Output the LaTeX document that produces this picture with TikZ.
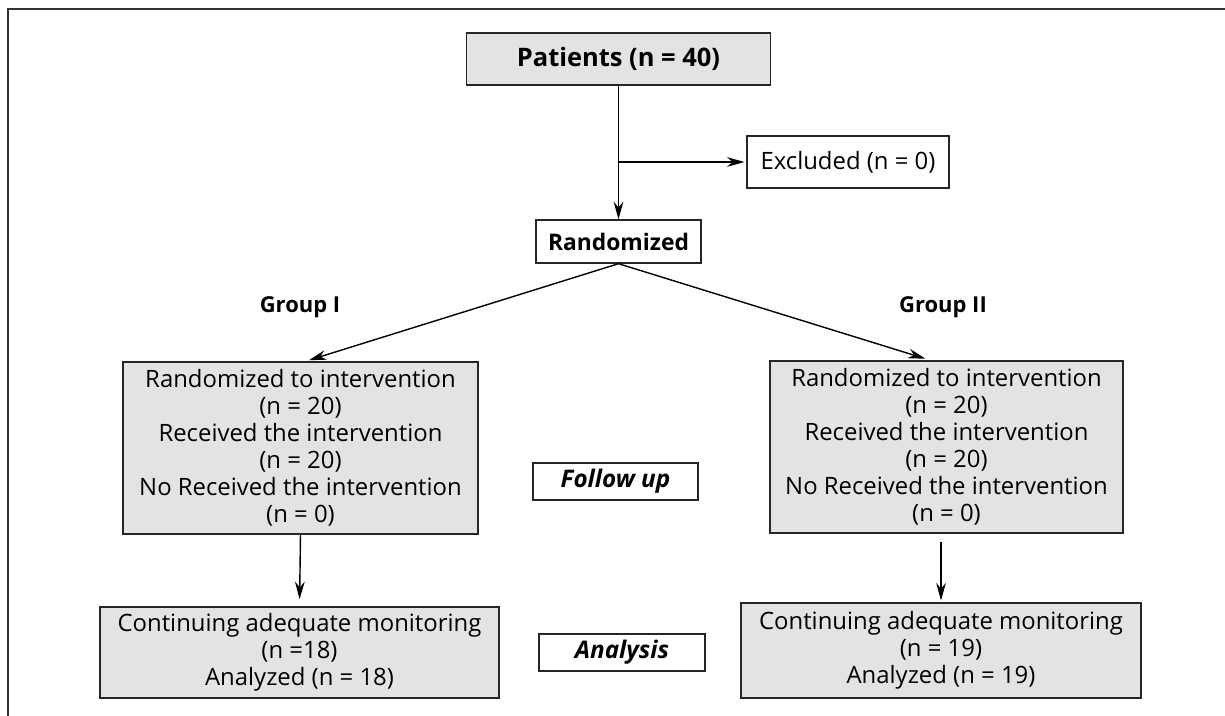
\documentclass[tikz,border=0pt]{standalone}
\usepackage{fontspec}
\setmainfont{Open Sans}
\usetikzlibrary{arrows.meta}

\begin{document}
\begin{tikzpicture}[x=0.02cm,y=-0.02cm,line width=0.8pt,>={Stealth[length=10pt,width=5.5pt]},
  box/.style={draw=black!85,align=center,inner sep=0pt,font=\fontsize{13.6}{15.4}\selectfont},
  gbox/.style={box,fill=black!11},
  wbox/.style={box,fill=white},
  grp/.style={font=\fontsize{12.5}{15}\selectfont\bfseries}]
\useasboundingbox (0,0) rectangle (1225,716);
% ---- frame (open at right and bottom) ----
\draw[line width=1.1pt,black!80] (8,716) -- (8,9) -- (1225,9);
% ---- enrolment ----
\node[gbox,minimum width=304*0.02cm,minimum height=52*0.02cm,font=\fontsize{14.5}{17}\selectfont\bfseries]
  (pat) at (618.5,59) {Patients (n = 40)};
\node[wbox,minimum width=202*0.02cm,minimum height=52*0.02cm] (excl) at (848,162) {Excluded (n = 0)};
\node[wbox,minimum width=165*0.02cm,minimum height=43*0.02cm,font=\fontsize{13}{16}\selectfont\bfseries]
  (rand) at (618.5,241.5) {Randomized};
\coordinate (split) at (618.5,162);
\draw (pat.south) -- (split);
\draw[->] (split) -- (rand.north);
\draw[->,shorten >=1pt] (split) -- (excl.west);
% ---- allocation ----
\node[grp] (lblone) at (300,307) {Group I};
\node[grp] (lbltwo) at (943,307) {Group II};
\node[gbox,minimum width=355*0.02cm,minimum height=172*0.02cm] (grpone) at (300.5,448)
  {Randomized to intervention\\(n = 20)\\Received the intervention\\(n = 20)\\No Received the intervention\\(n = 0)};
\node[gbox,minimum width=353*0.02cm,minimum height=172*0.02cm] (grptwo) at (946.5,447)
  {Randomized to intervention\\(n = 20)\\Received the intervention\\(n = 20)\\No Received the intervention\\(n = 0)};
\draw[->,shorten >=2pt] (rand.south) -- ([xshift=0.1cm]grpone.north);
\draw[->,shorten >=3pt] (rand.south) -- ([xshift=-0.32cm]grptwo.north);
% ---- follow up / analysis ----
\node[wbox,minimum width=165*0.02cm,minimum height=37*0.02cm,font=\fontsize{13.8}{16}\selectfont\bfseries\itshape]
  (follow) at (615.5,481.5) {Follow up};
\node[wbox,minimum width=166*0.02cm,minimum height=37*0.02cm,font=\fontsize{13.8}{16}\selectfont\bfseries\itshape]
  (anal) at (622,652.5) {Analysis};
\node[gbox,minimum width=399*0.02cm,minimum height=91*0.02cm] (anaone) at (299.5,652.5)
  {Continuing adequate monitoring\\(n =18)\\Analyzed (n = 18)};
\node[gbox,minimum width=400*0.02cm,minimum height=95*0.02cm] (anatwo) at (941,650.5)
  {Continuing adequate monitoring\\(n = 19)\\Analyzed (n = 19)};
\draw[->,shorten >=4pt] (grpone.south) -- (anaone.north);
\draw[->,shorten <=5pt,shorten >=1pt] (grptwo.south -| anatwo.north) -- (anatwo.north);
\end{tikzpicture}
\end{document}
